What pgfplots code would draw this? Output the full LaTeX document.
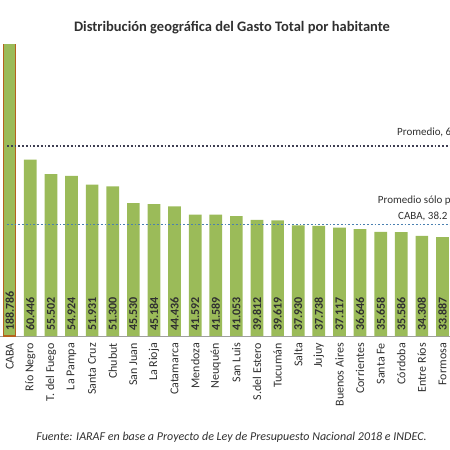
\documentclass[border=0pt]{standalone}
\usepackage{pgfplots}
\pgfplotsset{compat=1.18}
\usepackage{pgfplotstable}
\usepackage{fontspec}
\setmainfont{Carlito}
\definecolor{barg}{HTML}{9BBB59}
\definecolor{cabaedge}{HTML}{B5621E}
\definecolor{avgdark}{HTML}{3F3F52}
\definecolor{avgblue}{HTML}{4A80B0}
\definecolor{txt}{HTML}{303030}

\pgfplotstableread{
x y lab
0 0 188.786
1 0 60.446
2 0 55.502
3 0 54.924
4 0 51.931
5 0 51.300
6 0 45.530
7 0 45.184
8 0 44.436
9 0 41.592
10 0 41.589
11 0 41.053
12 0 39.812
13 0 39.619
14 0 37.930
15 0 37.738
16 0 37.117
17 0 36.646
18 0 35.658
19 0 35.586
20 0 34.308
21 0 33.887
}\labtable

\begin{document}
\begin{tikzpicture}
\begin{axis}[
  at={(0,0)}, anchor=south west,
  x=20.61bp, y=2.917bp,
  xmin=-0.47, xmax=21.36, ymin=0, ymax=100.1,
  axis y line=none,
  axis x line*=bottom,
  x axis line style={draw=gray!75, line width=0.8bp},
  xtick={0,...,21},
  xticklabels={CABA, Río Negro, T. del Fuego, La Pampa, Santa Cruz, Chubut, San Juan, La Rioja, Catamarca, Mendoza, Neuquén, San Luis, S.del Estero, Tucumán, Salta, Jujuy, Buenos Aires, Corrientes, Santa Fe, Córdoba, Entre Ríos, Formosa},
  xtick style={draw=none},
  xticklabel style={rotate=90, anchor=east, inner xsep=7bp, inner ysep=0pt, font=\fontsize{12bp}{14bp}\selectfont, text=txt},
  ytick=\empty,
]
\addplot[ybar, bar width=0.616, bar shift=0pt, fill=barg, draw=none] coordinates {
(1,60.446) (2,55.502) (3,54.924) (4,51.931) (5,51.300) (6,45.530) (7,45.184)
(8,44.436) (9,41.592) (10,41.589) (11,41.053) (12,39.812) (13,39.619) (14,37.930)
(15,37.738) (16,37.117) (17,36.646) (18,35.658) (19,35.586) (20,34.308) (21,33.887)
};
\addplot[ybar, bar width=0.58, bar shift=0pt, fill=barg, draw=cabaedge, line width=1.1bp] coordinates {(0,188.786)};
\addplot[draw=none, mark=none, nodes near coords, point meta=explicit symbolic,
  nodes near coords style={rotate=90, anchor=west, inner xsep=5bp, inner ysep=0pt,
  font=\bfseries\fontsize{12bp}{14bp}\selectfont, text=txt}]
  table[x=x, y=y, meta=lab] {\labtable};
\addplot[avgdark, line width=1.8bp, dash pattern=on 1.8bp off 1.95bp, mark=none] coordinates {(-0.13,65.1) (21.36,65.1)};
\addplot[avgblue, line width=1.8bp, dash pattern=on 1.8bp off 1.95bp, mark=none] coordinates {(-0.13,38.2) (21.36,38.2)};
\node[anchor=west, inner sep=0pt, font=\fontsize{11bp}{13bp}\selectfont, text=txt] at (axis cs:18.79,69.9) {Promedio, 65.1};
\node[anchor=west, inner sep=0pt, font=\fontsize{11bp}{13bp}\selectfont, text=txt] at (axis cs:17.86,46.4) {Promedio sólo provincias sin};
\node[anchor=west, inner sep=0pt, font=\fontsize{11bp}{13bp}\selectfont, text=txt] at (axis cs:18.84,41.1) {CABA, 38.2};
\end{axis}
\node[font=\bfseries\fontsize{14.5bp}{17bp}\selectfont, text=txt] at (232bp,308bp) {Distribución geográfica del Gasto Total por habitante};
\node[font=\itshape\fontsize{12bp}{14bp}\selectfont, text=txt] at (231.5bp,-101bp) {Fuente: IARAF en base a Proyecto de Ley de Presupuesto Nacional 2018 e INDEC.};
\pgfresetboundingbox
\path[use as bounding box] (0,-114bp) rectangle (450bp,336bp);
\end{tikzpicture}
\end{document}
